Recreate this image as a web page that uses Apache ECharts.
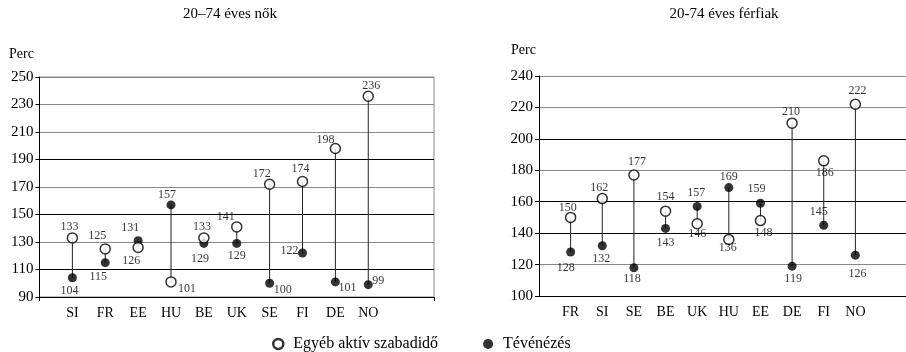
<!DOCTYPE html>
<html><head><meta charset="utf-8">
<script src="https://cdn.jsdelivr.net/npm/echarts@6/dist/echarts.min.js"></script>
<style>html,body{margin:0;padding:0;background:#fff}#c{width:906px;height:352px}</style>
</head><body><div id="c"></div>
<script>
// ---- data ----
const leftCategories = ['SI','FR','EE','HU','BE','UK','SE','FI','DE','NO'];
const leftOther = [133,125,126,101,133,141,172,174,198,236];
const leftTV = [104,115,131,157,129,129,100,122,101,99];
const rightCategories = ['FR','SI','SE','BE','UK','HU','EE','DE','FI','NO'];
const rightOther = [150,162,177,154,146,136,148,210,186,222];
const rightTV = [128,132,118,143,157,169,159,119,145,126];
const seriesNames = ['Egyéb aktív szabadidő','Tévénézés'];
const titles = ['20–74 éves nők','20-74 éves férfiak'];
const axisName = 'Perc';

// ---- label placement (style) ----
const leftOtherOff = [[-3,-11],[-8,-13],[-7,13],[16,7],[-2,-11],[-11,-10],[-8,-10],[-2,-13],[-10,-9],[3,-10]];
const leftTVOff = [[-3,13],[-7,14],[-8,-13],[-4,-10],[-4,15],[0,12],[13,7],[-13,-2],[12,6],[10,-4]];
const rightOtherOff = [[-3,-10],[-3,-11],[3,-13],[0,-14],[0,10],[-1,8],[3,12],[-1,-11],[1,12],[2,-13]];
const rightTVOff = [[-5,16],[-1,13],[-2,11],[0,14],[-1,-14],[0,-11],[-4,-14],[1,13],[-5,-13],[2,19]];

const FONT = "'Liberation Serif','Times New Roman',serif";

function axisCats(cats){ return [''].concat(cats, ['','']); }
function pts(vals, offs){
  return vals.map((v,i)=>({value:[i+1, v], label:{offset:offs[i]}}));
}
function stems(a, b){ return a.map((v,i)=>[i+1, v, b[i]]); }

const stemRender = (params, api) => {
  const x = api.value(0);
  const p1 = api.coord([x, api.value(1)]);
  const p2 = api.coord([x, api.value(2)]);
  return {type:'line', shape:{x1:p1[0],y1:p1[1],x2:p2[0],y2:p2[1]}, style:{stroke:'#222', lineWidth:1}};
};

const labelCfg = {show:true, position:'inside', formatter:p=>p.value[1], color:'#000', fontSize:12, fontFamily:FONT};
const openStyle = {color:'#fff', borderColor:'#000', borderWidth:1.5};
const fillStyle = {color:'#000'};
const xLabelStyle = {color:'#000', fontSize:14, fontFamily:FONT, margin:9};

function yAxis(idx, min, max, colors){
  return {type:'value', gridIndex:idx, min:min, max:max, interval:20,
    axisLine:{show:true, lineStyle:{color:'#000', width:1}},
    axisTick:{show:true, length:4, lineStyle:{color:'#000'}},
    axisLabel:{color:'#000', fontSize:15, fontFamily:FONT, margin:6},
    splitLine:{show:true, lineStyle:{color:colors, width:1}}};
}

const chart = echarts.init(document.getElementById('c'), null, {renderer:'canvas'});
chart.setOption({
  animation:false,
  backgroundColor:'#fff',
  title:[
    {text:titles[0], left:230, textAlign:'center', top:7, padding:0, textStyle:{fontSize:15, fontWeight:'normal', color:'#000', fontFamily:FONT}},
    {text:titles[1], left:724, textAlign:'center', top:7, padding:0, textStyle:{fontSize:15, fontWeight:'normal', color:'#000', fontFamily:FONT}},
    {text:axisName, left:9, top:47, padding:0, textStyle:{fontSize:14, fontWeight:'normal', color:'#000', fontFamily:FONT}},
    {text:axisName, left:511, top:43, padding:0, textStyle:{fontSize:14, fontWeight:'normal', color:'#000', fontFamily:FONT}}
  ],
  legend:{
    data:[{name:seriesNames[0], itemStyle:{borderWidth:2.5}}, {name:seriesNames[1]}],
    left:272, top:336, padding:0, itemWidth:20, itemHeight:10, itemGap:45,
    textStyle:{fontSize:16, color:'#000', fontFamily:FONT}
  },
  grid:[
    {left:39.5, top:77, width:394.5, height:220, show:true, borderColor:'#888', borderWidth:1},
    {left:539, top:76, right:0, height:220, show:false}
  ],
  xAxis:[
    {type:'category', gridIndex:0, data:axisCats(leftCategories), boundaryGap:false,
     axisLine:{lineStyle:{color:'#000', width:1}},
     axisTick:{show:true, length:4, interval:(i)=> i===0 || i===12, lineStyle:{color:'#000'}},
     axisLabel:Object.assign({interval:0}, xLabelStyle),
     splitLine:{show:false}},
    {type:'value', gridIndex:1, min:0, max:11.6, interval:1,
     axisLine:{show:true, lineStyle:{color:'#000', width:1}},
     axisTick:{show:false},
     axisLabel:Object.assign({formatter:(v)=> (Number.isInteger(v) && v>=1 && v<=rightCategories.length) ? rightCategories[v-1] : '', showMinLabel:false, showMaxLabel:false}, xLabelStyle),
     splitLine:{show:false}}
  ],
  yAxis:[
    yAxis(0, 90, 250, ['#000','#000','#888','#000','#888','#000','#888','#888','#888']),
    yAxis(1, 100, 240, ['#000','#888','#000','#000','#888','#000','#888','#888'])
  ],
  series:[
    {type:'custom', xAxisIndex:0, yAxisIndex:0, renderItem:stemRender, data:stems(leftOther,leftTV), encode:{x:0,y:[1,2]}, z:1, silent:true},
    {type:'custom', xAxisIndex:1, yAxisIndex:1, renderItem:stemRender, data:stems(rightOther,rightTV), encode:{x:0,y:[1,2]}, z:1, silent:true},
    {name:seriesNames[1], type:'scatter', xAxisIndex:0, yAxisIndex:0, symbol:'circle', symbolSize:9, itemStyle:fillStyle, label:labelCfg, data:pts(leftTV,leftTVOff), z:3},
    {name:seriesNames[1], type:'scatter', xAxisIndex:1, yAxisIndex:1, symbol:'circle', symbolSize:9, itemStyle:fillStyle, label:labelCfg, data:pts(rightTV,rightTVOff), z:3},
    {name:seriesNames[0], type:'scatter', xAxisIndex:0, yAxisIndex:0, symbol:'circle', symbolSize:10, itemStyle:openStyle, label:labelCfg, data:pts(leftOther,leftOtherOff), z:4},
    {name:seriesNames[0], type:'scatter', xAxisIndex:1, yAxisIndex:1, symbol:'circle', symbolSize:10, itemStyle:openStyle, label:labelCfg, data:pts(rightOther,rightOtherOff), z:4}
  ]
});
</script></body></html>
